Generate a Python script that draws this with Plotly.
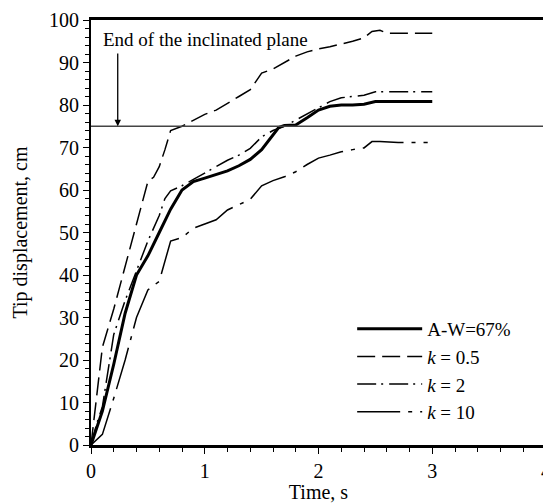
import plotly.graph_objects as go

# ---- data ----
t_aw = [0, 0.05, 0.1, 0.2, 0.3, 0.4, 0.5, 0.6, 0.7, 0.8, 0.9, 1.0, 1.1, 1.2, 1.3, 1.4, 1.5, 1.57, 1.65, 1.7, 1.8, 1.9, 2.0, 2.1, 2.2, 2.3, 2.4, 2.5, 2.6, 2.8, 3.0]
aw = [0, 4, 8, 19, 31, 40, 44.5, 50, 55.5, 60, 62, 62.8, 63.6, 64.5, 65.7, 67.2, 69.5, 72, 74.7, 75.2, 75.3, 77, 78.8, 79.7, 80, 80, 80.2, 80.8, 80.8, 80.8, 80.8]

t_k05 = [0, 0.05, 0.1, 0.2, 0.3, 0.4, 0.5, 0.55, 0.6, 0.65, 0.7, 0.8, 0.9, 1.0, 1.1, 1.2, 1.3, 1.4, 1.5, 1.6, 1.7, 1.8, 1.9, 2.0, 2.1, 2.2, 2.3, 2.4, 2.47, 2.54, 2.6, 2.8, 3.0]
k05 = [0, 12, 23, 32, 42, 52, 62, 63, 65.5, 69.5, 74, 75, 76.5, 77.8, 78.8, 80.5, 82, 83.6, 87.5, 88.5, 90, 91.5, 92.5, 93.2, 93.7, 94.3, 95, 95.8, 97.3, 97.6, 96.9, 96.9, 96.9]

t_k2 = [0, 0.05, 0.1, 0.2, 0.3, 0.4, 0.5, 0.6, 0.65, 0.7, 0.8, 0.9, 1.0, 1.1, 1.2, 1.3, 1.4, 1.5, 1.6, 1.7, 1.8, 1.9, 2.0, 2.1, 2.2, 2.3, 2.4, 2.5, 2.6, 2.8, 3.0]
k2 = [0, 5, 9, 26, 34, 41, 48, 54, 58, 59.8, 61, 62.5, 64, 65.5, 67, 68.2, 69.8, 72.5, 74, 75, 76.5, 78, 79.5, 80.8, 81.7, 82, 82.3, 83.1, 83.1, 83.1, 83.1]

t_k10 = [0, 0.1, 0.2, 0.3, 0.4, 0.5, 0.6, 0.65, 0.7, 0.8, 0.9, 1.0, 1.1, 1.2, 1.3, 1.4, 1.5, 1.6, 1.7, 1.8, 1.9, 2.0, 2.1, 2.2, 2.3, 2.4, 2.47, 2.54, 2.7, 2.96]
k10 = [0, 2.5, 11, 20, 30, 36.5, 38.5, 43, 48, 48.8, 51, 52, 53, 55.3, 56.5, 57.8, 61, 62.2, 63.1, 64.3, 66, 67.5, 68.2, 69, 69.5, 69.9, 71.4, 71.4, 71.2, 71.2]

x_ticks = [0, 1, 2, 3, 4]
y_ticks = [0, 10, 20, 30, 40, 50, 60, 70, 80, 90, 100]
plane_end = 75

FONT = "Liberation Serif, Times New Roman, serif"

fig = go.Figure()
fig.add_trace(go.Scatter(x=t_aw, y=aw, mode="lines", name="A-W=67%",
                         line=dict(color="black", width=3)))
fig.add_trace(go.Scatter(x=t_k05, y=k05, mode="lines", name="<i>k</i> = 0.5",
                         line=dict(color="black", width=1.5, dash="18px,7px")))
fig.add_trace(go.Scatter(x=t_k2, y=k2, mode="lines", name="<i>k</i> = 2",
                         line=dict(color="black", width=1.5, dash="19px,5px,2px,6px")))
fig.add_trace(go.Scatter(x=t_k10, y=k10, mode="lines", name="<i>k</i> = 10",
                         line=dict(color="black", width=1.5, dash="43px,8px,4px,8px")))

fig.add_shape(type="line", xref="paper", x0=0, x1=1, yref="y", y0=plane_end, y1=plane_end,
              line=dict(color="#444444", width=1.5))

fig.add_annotation(x=0.235, y=plane_end, ax=0.235, ay=92.5, xref="x", yref="y",
                   axref="x", ayref="y", text="", showarrow=True,
                   arrowhead=2, arrowsize=1, arrowwidth=1.3, arrowcolor="black")
fig.add_annotation(x=1.01, y=95.3, xref="x", yref="y", text="End of the inclinated plane",
                   showarrow=False, font=dict(family=FONT, size=19, color="black"))

axis_common = dict(showline=True, linecolor="black", mirror=True, showgrid=False,
                   zeroline=False, ticks="outside", tickcolor="black", ticklen=6,
                   tickwidth=1.3, automargin=False,
                   tickfont=dict(family=FONT, size=20, color="black"))

fig.update_xaxes(range=[0, 4], tickvals=x_ticks, linewidth=2.5,
                 minor=dict(dtick=0.2, ticks="outside", ticklen=4, tickcolor="black", tickwidth=1),
                 title=dict(text="Time, s", font=dict(family=FONT, size=20, color="black"), standoff=3),
                 **axis_common)
fig.update_yaxes(range=[0, 100], tickvals=y_ticks, linewidth=2,
                 minor=dict(dtick=2, ticks="outside", ticklen=4, tickcolor="black", tickwidth=1),
                 title=dict(text="Tip displacement, cm", font=dict(family=FONT, size=20, color="black"), standoff=16),
                 **axis_common)

# the page adds an 8px body margin, so the figure is sized to fill the rest of the window
fig.update_layout(
    width=543, height=495,
    margin=dict(l=83, r=5, t=12, b=58),
    paper_bgcolor="white", plot_bgcolor="white",
    font=dict(family=FONT, size=20, color="black"),
    showlegend=True,
    legend=dict(x=0.574, y=0.318, xanchor="left", yanchor="top",
                bgcolor="rgba(0,0,0,0)", itemwidth=65,
                font=dict(family=FONT, size=19, color="black"),
                tracegroupgap=0),
)

fig.write_html("out.html")
